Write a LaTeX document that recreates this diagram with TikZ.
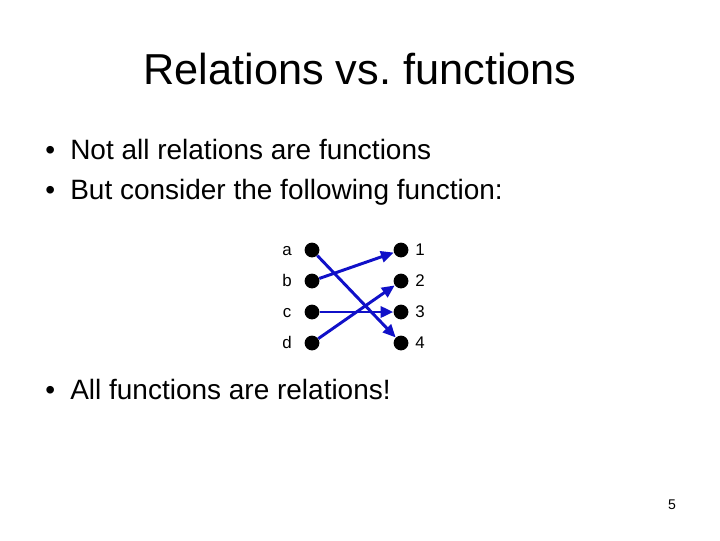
\documentclass[tikz,border=0pt]{standalone}
\usepackage{fontspec}
\setmainfont{Liberation Sans}
\usetikzlibrary{arrows.meta}
\definecolor{relBlue}{HTML}{1010C8}
\frenchspacing
\tikzset{
  rel title/.style={font=\fontsize{30.8}{36}\selectfont, anchor=base},
  rel bullet/.style={font=\fontsize{19.9}{24}\selectfont, anchor=base west, inner sep=0pt},
  rel dot/.style={circle, fill=black, minimum size=0.37cm, inner sep=0pt},
  rel label/.style={font=\fontsize{12}{14}\selectfont, anchor=base, inner sep=0pt},
  rel map/.style={draw=relBlue, line width=2.1pt, -{Triangle[length=3.2mm,width=2.8mm]}},
}
\begin{document}
\begin{tikzpicture}[x=0.025cm,y=-0.025cm]
  \useasboundingbox[fill=white] (0,0) rectangle (720,540);
  \node[rel title] (title) at (360,84) {Relations vs. functions};
  \foreach \y/\txt [count=\i] in {159/Not all relations are functions,199/But consider the following function:,399/All functions are relations!} {
    \node[rel bullet] (dot\i) at (45,\y) {\textbullet};
    \node[rel bullet] (line\i) at (70,\y) {\txt};
  }
  \foreach \lab [count=\i] in {a,b,c,d} {
    \node[rel dot] (left\i) at (312,219+31*\i) {};
    \node[rel label] (lab\lab) at (287,224+31*\i) {\lab};
  }
  \foreach \num in {1,2,3,4} {
    \node[rel dot] (right\num) at (401,219+31*\num) {};
    \node[rel label] (num\num) at (420,224+31*\num) {\num};
  }
  \draw[rel map] (left1) -- (right4);
  \draw[rel map] (left2) -- (right1);
  \draw[rel map] (left3) -- (right3);
  \draw[rel map] (left4) -- (right2);
  \node[font=\fontsize{10}{12}\selectfont, anchor=base] (page) at (672,509) {5};
\end{tikzpicture}
\end{document}
